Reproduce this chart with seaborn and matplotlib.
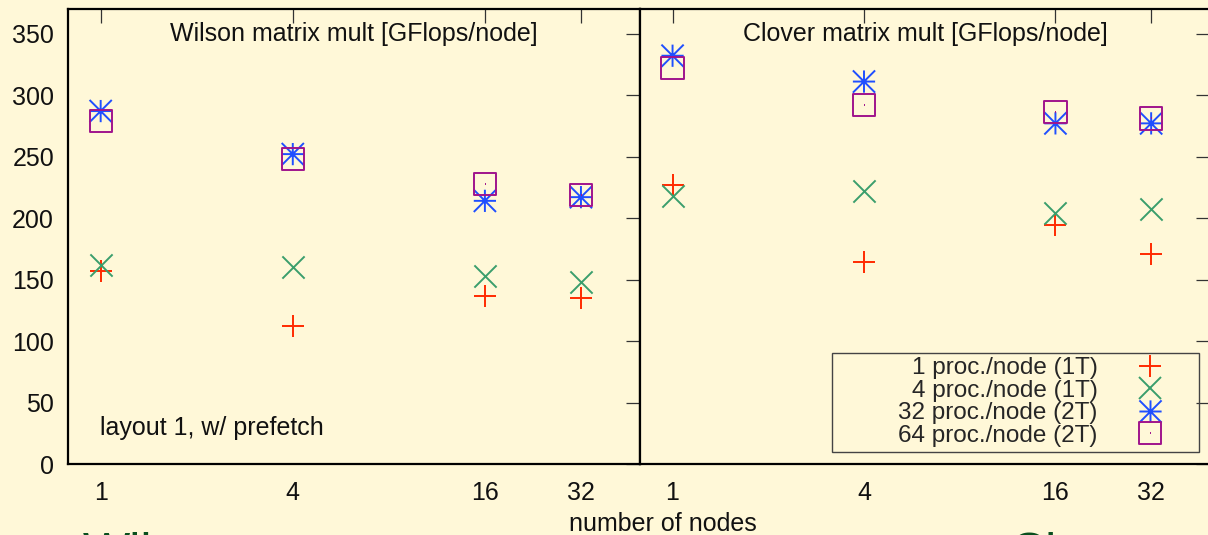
import matplotlib
matplotlib.use("Agg")
import matplotlib.pyplot as plt
import numpy as np
import pandas as pd
import seaborn as sns
from matplotlib.lines import Line2D
from matplotlib.patches import Rectangle
from matplotlib.path import Path

# data (GFlops/node)
nodes = [1, 4, 16, 32]
series_labels = ['1 proc./node (1T)', '4 proc./node (1T)',
                 '32 proc./node (2T)', '64 proc./node (2T)']

wilson_1p = [157, 112, 137, 135]
wilson_4p = [162, 160, 153, 148]
wilson_32p = [287, 252, 214, 217]
wilson_64p = [279, 248, 228, 219]

clover_1p = [227, 164, 194, 171]
clover_4p = [218, 222, 204, 207]
clover_32p = [332, 311, 277, 277]
clover_64p = [322, 292, 286, 281]

bg = '#fff8d8'
colors = ['#ff2a00', '#3a9e6c', '#1f4fff', '#a0148c']

# gnuplot like point types
star = Path([(-1, 0), (1, 0), (0, -1), (0, 1), (-1, -1), (1, 1), (-1, 1), (1, -1)],
            [Path.MOVETO, Path.LINETO] * 4)
box = Path([(-1, -1), (1, -1), (1, 1), (-1, 1), (-1, -1), (0, 0), (0.06, 0)],
           [Path.MOVETO, Path.LINETO, Path.LINETO, Path.LINETO, Path.CLOSEPOLY,
            Path.MOVETO, Path.LINETO])
markers = ['+', 'x', star, box]
msize = 16
mlw = 1.4

sns.set_theme(style='white')
plt.rcParams['font.family'] = ['Liberation Sans', 'DejaVu Sans']
plt.rcParams['font.size'] = 18

fig = plt.figure(figsize=(12.08, 5.35), dpi=100, facecolor=bg)
ax1 = fig.add_axes([68 / 1208, 1 - 464 / 535, 572 / 1208, 455 / 535])
ax2 = fig.add_axes([640 / 1208, 1 - 464 / 535, 570 / 1208, 455 / 535])

panels = [
    (ax1, [wilson_1p, wilson_4p, wilson_32p, wilson_64p], 'Wilson matrix mult [GFlops/node]'),
    (ax2, [clover_1p, clover_4p, clover_32p, clover_64p], 'Clover matrix mult [GFlops/node]'),
]

for ax, values, title in panels:
    ax.set_facecolor(bg)
    for vals, m, c in zip(values, markers, colors):
        df = pd.DataFrame({'nodes': nodes, 'gflops': vals})
        if isinstance(m, str):
            # line-art markers take their colour from the face
            sns.scatterplot(data=df, x='nodes', y='gflops', ax=ax, marker=m,
                            s=msize ** 2, color=c, linewidth=mlw, legend=False, zorder=3)
        else:
            sns.scatterplot(data=df, x='nodes', y='gflops', ax=ax, marker=m,
                            s=msize ** 2, color=c, edgecolor=c, facecolor='none',
                            linewidth=mlw, legend=False, zorder=3)
    ax.set_xscale('log')
    ax.set_xlim(0.79, 49)
    ax.set_ylim(0, 370)
    ax.set_xticks(nodes)
    ax.set_xticklabels([str(n) for n in nodes])
    ax.minorticks_off()
    ax.set_yticks(np.arange(0, 351, 50))
    ax.set_xlabel('')
    ax.set_ylabel('')
    ax.tick_params(which='both', direction='in', length=10, width=0.9, color='#333333',
                   top=True, right=True, labelsize=18, colors='#111111')
    ax.tick_params(axis='x', pad=12)
    ax.tick_params(axis='y', pad=10)
    for sp in ax.spines.values():
        sp.set_visible(True)
        sp.set_color('black')
        sp.set_linewidth(1.6)
    ax.text(0.5, 0.945, title, transform=ax.transAxes, ha='center', va='center',
            fontsize=18, color='#111111')

ax2.tick_params(axis='y', labelleft=False)

ax1.text(0.056, 0.079, 'layout 1, w/ prefetch', transform=ax1.transAxes,
         ha='left', va='center', fontsize=18, color='#111111')

# key box, gnuplot style (labels right aligned, symbol on the right)
handles = [Line2D([], [], linestyle='none', marker=m, markersize=msize, color=c,
                  markeredgecolor=c, markerfacecolor='none', markeredgewidth=mlw)
           for m, c in zip(markers, colors)]
ax2.add_patch(Rectangle((0.337, 0.026), 0.644, 0.218, transform=ax2.transAxes,
                        facecolor='none', edgecolor='#444444', linewidth=1.0, zorder=4))
ax2.legend(handles, series_labels, loc='center right', bbox_to_anchor=(0.937, 0.136),
           frameon=False, markerfirst=False, fontsize=17.5, handlelength=2.0,
           handletextpad=1.15, labelspacing=0.02, borderpad=0, borderaxespad=0)

fig.text(663 / 1208, 1 - 524 / 535, 'number of nodes', ha='center', va='center',
         fontsize=18, color='#111111')

# slide titles underneath, mostly cut off by the page edge (as in the source)
fig.text(83 / 1208, -0.062, 'Wilson', ha='left', va='baseline', fontsize=36,
         color='#0a4f1e')
fig.text(1010 / 1208, -0.062, 'Clover', ha='left', va='baseline', fontsize=36,
         color='#0a4f1e')

fig.savefig('out.png', dpi=100, facecolor=bg)
